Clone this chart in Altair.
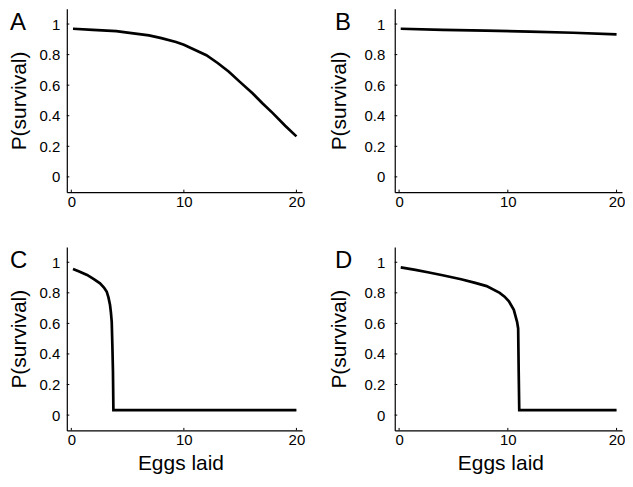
import altair as alt
import pandas as pd

letters = ["A", "B", "C", "D"]
x_ticks = [0, 10, 20]
y_ticks = [0, 0.2, 0.4, 0.6, 0.8, 1.0]

a_x = [0.15, 1.9, 4.0, 5.0, 6.9, 8.0, 9.3, 10.0, 12.0, 13.0, 14.0, 15.0, 16.1, 17.0, 17.9, 19.0, 20.0]
a_y = [0.969, 0.962, 0.954, 0.944, 0.926, 0.908, 0.882, 0.864, 0.796, 0.745, 0.688, 0.62, 0.547, 0.48, 0.417, 0.335, 0.265]

b_x = [0.15, 4.0, 8.0, 12.0, 16.0, 20.0]
b_y = [0.969, 0.962, 0.957, 0.950, 0.943, 0.932]

c_x = [0.15, 0.7, 1.4, 2.0, 2.55, 2.9, 3.15, 3.3, 3.44, 3.52, 3.59, 3.65, 3.7, 3.74, 20.0]
c_y = [0.956, 0.94, 0.917, 0.89, 0.862, 0.835, 0.807, 0.77, 0.72, 0.67, 0.611, 0.45, 0.284, 0.033, 0.033]

d_x = [0.15, 1.5, 2.75, 4.0, 5.7, 7.0, 8.05, 9.25, 9.7, 10.1, 10.55, 10.85, 10.95, 11.0, 11.05, 20.0]
d_y = [0.967, 0.95, 0.933, 0.915, 0.889, 0.865, 0.844, 0.80, 0.775, 0.744, 0.689, 0.61, 0.567, 0.28, 0.032, 0.032]

FONT = "Liberation Sans"
W_LEFT, W_RIGHT, H = 236, 228, 184


def panel(letter, xs, ys, bottom, right):
    W = W_RIGHT if right else W_LEFT
    df = pd.DataFrame({"x": xs, "y": ys})
    xaxis = dict(values=x_ticks, format="d", labelPadding=2, titlePadding=5)
    if bottom:
        xaxis["titleX"] = 106 if right else 114
    xenc = alt.X(
        "x:Q",
        scale=alt.Scale(domain=[-0.4, 20.5], nice=False, zero=False),
        axis=alt.Axis(**xaxis),
        title="Eggs laid" if bottom else None,
    )
    yenc = alt.Y(
        "y:Q",
        scale=alt.Scale(domain=[-0.1, 1.1], nice=False, zero=False),
        axis=alt.Axis(
            values=y_ticks, format="~g",
            labelPadding=10 if right else 7,
            titlePadding=15 if right else 10,
        ),
        title="P(survival)",
    )
    line = alt.Chart(df).mark_line(color="black", strokeWidth=2.7).encode(x=xenc, y=yenc)
    xt = alt.Chart(pd.DataFrame({"x": x_ticks})).mark_rule(color="black", strokeWidth=1).encode(
        x=xenc, y=alt.value(H), y2=alt.value(H - 2.5)
    )
    yt = alt.Chart(pd.DataFrame({"y": y_ticks})).mark_rule(color="black", strokeWidth=1).encode(
        y=yenc, x=alt.value(0), x2=alt.value(2.5)
    )
    lab = alt.Chart(pd.DataFrame({"t": [letter]})).mark_text(
        align="left", baseline="top", fontSize=24, font=FONT, color="black"
    ).encode(text="t:N", x=alt.value(-60 if right else -57), y=alt.value(2))
    return alt.layer(line, xt, yt, lab).properties(width=W, height=H)


top = alt.hconcat(panel(letters[0], a_x, a_y, False, False), panel(letters[1], b_x, b_y, False, True), spacing=23)
bot = alt.hconcat(panel(letters[2], c_x, c_y, True, False), panel(letters[3], d_x, d_y, True, True), spacing=23)

chart = alt.vconcat(top, bot, spacing=38).properties(
    padding=0, background="white"
).configure_view(
    strokeWidth=0
).configure_axis(
    labelFont=FONT, labelFontSize=15, labelColor="black",
    titleFont=FONT, titleFontSize=21, titleFontWeight="normal", titleColor="black",
    domainColor="black", domainWidth=1.2, ticks=False, grid=False,
)

chart.save("out.html", embed_options={"renderer": "svg", "actions": False})
